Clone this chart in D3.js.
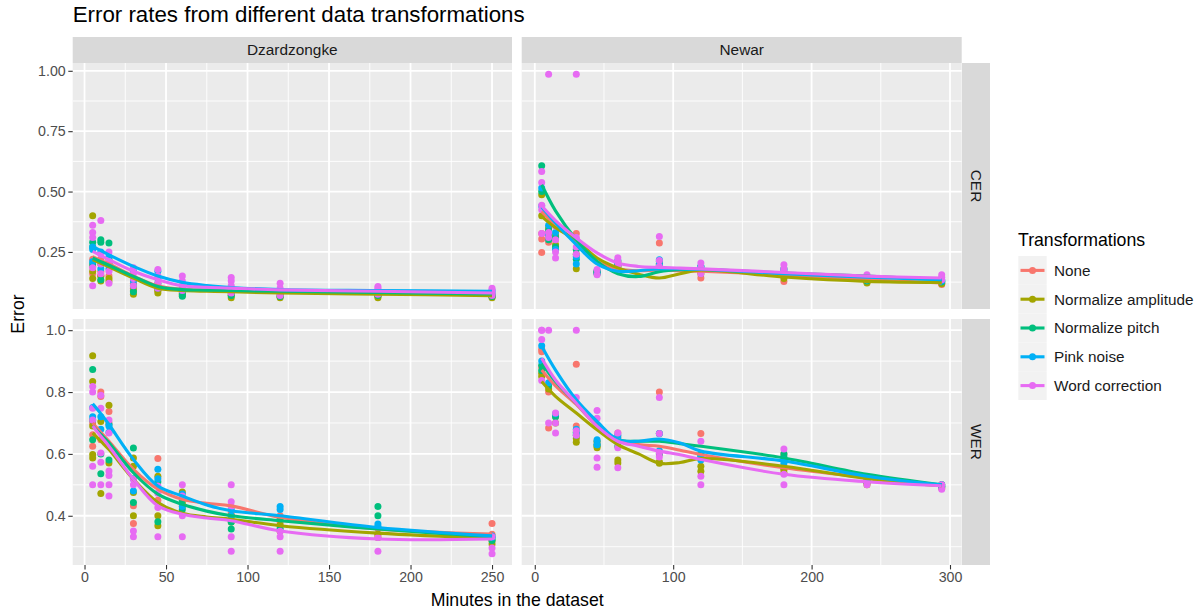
<!DOCTYPE html>
<html><head><meta charset="utf-8">
<script src="https://cdn.jsdelivr.net/npm/d3@7"></script>
<style>
body{margin:0;background:#fff}
svg{display:block}
text{font-family:"Liberation Sans",Arial,Helvetica,sans-serif}
</style>
</head><body>
<svg id="chart" width="1204" height="615"></svg>
<script>
// ---------------- DATA ----------------
const transformations = ["None", "Normalize amplitude", "Normalize pitch", "Pink noise", "Word correction"];
const colors = ["#F8766D", "#A3A500", "#00BF7D", "#00B0F6", "#E76BF3"];
const languages = ["Dzardzongke", "Newar"];
const metrics = ["CER", "WER"];

const minutesDz = [5, 10, 15, 30, 45, 60, 90, 120, 180, 250];
const minutesNe = [5, 10, 15, 30, 45, 60, 90, 120, 180, 240, 294];

// observed points: one inner array per minutes value
const dzCerNone  = [[0.22,0.16,0.19],[0.22,0.17,0.15],[0.2,0.15],[0.12,0.1],[0.11,0.09],[0.09,0.08],[0.09,0.08],[0.08,0.07],[0.08,0.07],[0.075,0.065]];
const dzCerAmp   = [[0.40,0.17,0.14],[0.2,0.15,0.13],[0.22,0.14,0.13],[0.09,0.075],[0.09,0.08],[0.08,0.07],[0.07,0.06],[0.065,0.06],[0.065,0.06],[0.065,0.06]];
const dzCerPitch = [[0.29,0.27,0.2],[0.30,0.29,0.135],[0.287,0.2],[0.11,0.085],[0.12,0.1],[0.075,0.066],[0.08,0.07],[0.08,0.065],[0.075,0.07],[0.07,0.065]];
const dzCerPink  = [[0.27,0.26,0.21],[0.25,0.18],[0.23,0.18],[0.17,0.13],[0.17,0.14],[0.1,0.09],[0.1,0.09],[0.09,0.085],[0.09,0.085],[0.09,0.08]];
const dzCerWord  = [[0.36,0.33,0.31,0.185,0.11],[0.38,0.24,0.2,0.16],[0.25,0.21,0.17,0.12],[0.185,0.16,0.14,0.11],[0.177,0.15,0.12,0.1],[0.15,0.13,0.11,0.09],[0.144,0.13,0.11,0.09,0.08],[0.12,0.1,0.09,0.07],[0.107,0.1,0.08,0.075],[0.1,0.09,0.08,0.07]];

const neCerNone  = [[0.326,0.304,0.248],[0.33,0.29],[0.3,0.27],[0.326,0.3],[0.17,0.16],[0.2,0.19],[0.287,0.2],[0.17,0.142],[0.15,0.128],[0.13,0.125],[0.12,0.115]];
const neCerAmp   = [[0.487,0.40],[0.35,0.31],[0.32,0.28],[0.24,0.18],[0.17,0.165],[0.21,0.195],[0.2,0.19],[0.18,0.16],[0.16,0.14],[0.125,0.121],[0.125,0.118]];
const neCerPitch = [[0.607,0.5],[0.34,0.3],[0.31,0.27],[0.26,0.22],[0.168,0.16],[0.2,0.19],[0.21,0.195],[0.19,0.17],[0.18,0.16],[0.14,0.13],[0.13,0.125]];
const neCerPink  = [[0.515,0.44],[0.36,0.32],[0.33,0.26],[0.23,0.2],[0.172,0.162],[0.215,0.2],[0.218,0.2],[0.19,0.175],[0.175,0.165],[0.14,0.135],[0.135,0.13]];
const neCerWord  = [[0.583,0.538,0.443,0.425,0.326],[0.986,0.33,0.31],[0.356,0.3,0.25,0.225],[0.986,0.31,0.27,0.24],[0.177,0.156],[0.226,0.21,0.19],[0.314,0.215,0.19],[0.204,0.185,0.16],[0.197,0.18,0.17],[0.156,0.145,0.135],[0.156,0.145,0.135]];

const dzWerNone  = [[0.70,0.662,0.625],[0.80,0.786,0.646],[0.737,0.70],[0.432,0.375],[0.585,0.45],[0.46,0.43],[0.41,0.39],[0.40,0.38],[0.36,0.34],[0.375,0.34]];
const dzWerAmp   = [[0.917,0.834,0.69,0.598,0.587],[0.705,0.472],[0.757,0.571],[0.587,0.56,0.475,0.40],[0.528,0.40,0.368],[0.477,0.44],[0.40,0.38],[0.37,0.35],[0.34,0.33],[0.309,0.32]];
const dzWerPitch = [[0.873,0.71,0.646],[0.60,0.536],[0.695,0.58],[0.619,0.443],[0.51,0.381],[0.45,0.42],[0.38,0.357],[0.39,0.36],[0.43,0.40],[0.33,0.32]];
const dzWerPink  = [[0.75,0.72],[0.72,0.68],[0.69,0.67],[0.52,0.48],[0.55,0.52],[0.47,0.43],[0.42,0.40],[0.43,0.42],[0.373,0.365],[0.335,0.33]];
const dzWerWord  = [[0.818,0.80,0.748,0.71,0.56,0.50],[0.79,0.748,0.603,0.573,0.50],[0.71,0.668,0.545,0.53,0.50,0.464],[0.518,0.50,0.351,0.332],[0.496,0.473,0.427,0.332],[0.50,0.464,0.40,0.332],[0.50,0.445,0.43,0.332,0.285],[0.35,0.332,0.285],[0.33,0.285],[0.332,0.296,0.277]];

const neWerNone  = [[0.938,0.93,0.88],[0.80,0.684],[0.721],[0.89,0.69],[0.64,0.63],[0.668,0.655],[0.80,0.6],[0.666,0.6],[0.6,0.55],[0.51,0.505],[0.50,0.49]];
const neWerAmp   = [[0.861,0.85],[0.81],[0.70],[0.638,0.65],[0.625,0.62],[0.571,0.58],[0.575,0.57],[0.544,0.56],[0.55,0.54],[0.51,0.5],[0.495,0.49]];
const neWerPitch = [[0.887,0.87],[0.82],[0.72],[0.67,0.66],[0.64,0.63],[0.64,0.625],[0.666,0.6],[0.6,0.59],[0.60,0.59],[0.515,0.51],[0.5,0.495]];
const neWerPink  = [[0.95,0.9],[0.83],[0.73],[0.68,0.665],[0.646,0.63],[0.66,0.65],[0.666,0.61],[0.59,0.58],[0.58,0.57],[0.52,0.51],[0.5,0.495]];
const neWerWord  = [[1.0,0.97,0.837,1.0],[1.0,0.70],[0.732,0.70,0.668],[1.0,0.782,0.675,0.66],[0.74,0.715,0.587,0.557],[0.668,0.64,0.62,0.555],[0.782,0.666,0.604,0.59],[0.641,0.528,0.50],[0.616,0.534,0.50],[0.50],[0.50,0.486]];

// smoothed trend lines (at these minutes)
const smoothXDz = [5, 10, 15, 30, 45, 60, 75, 90, 120, 180, 250];
const smoothXNe = [5, 15, 30, 45, 60, 75, 90, 105, 120, 180, 240, 294];

const dzCerSmNone  = [0.23, 0.214, 0.2, 0.15, 0.11, 0.095, 0.091, 0.088, 0.083, 0.078, 0.072];
const dzCerSmAmp   = [0.218, 0.203, 0.188, 0.142, 0.10, 0.09, 0.087, 0.085, 0.08, 0.075, 0.069];
const dzCerSmPitch = [0.225, 0.21, 0.195, 0.149, 0.107, 0.094, 0.092, 0.09, 0.087, 0.082, 0.076];
const dzCerSmPink  = [0.273, 0.255, 0.238, 0.19, 0.15, 0.124, 0.111, 0.103, 0.094, 0.09, 0.087];
const dzCerSmWord  = [0.252, 0.235, 0.218, 0.17, 0.135, 0.11, 0.104, 0.10, 0.093, 0.087, 0.08];

const neCerSmNone  = [0.418, 0.36, 0.29, 0.21, 0.18, 0.172, 0.175, 0.172, 0.17, 0.155, 0.135, 0.122];
const neCerSmAmp   = [0.397, 0.35, 0.30, 0.225, 0.184, 0.158, 0.142, 0.16, 0.175, 0.146, 0.128, 0.124];
const neCerSmPitch = [0.528, 0.42, 0.30, 0.211, 0.16, 0.148, 0.168, 0.176, 0.177, 0.163, 0.15, 0.135];
const neCerSmPink  = [0.436, 0.37, 0.28, 0.20, 0.17, 0.172, 0.18, 0.18, 0.178, 0.16, 0.145, 0.135];
const neCerSmWord  = [0.441, 0.38, 0.308, 0.246, 0.204, 0.19, 0.186, 0.183, 0.18, 0.165, 0.15, 0.142];

const dzWerSmNone  = [0.70, 0.67, 0.641, 0.55, 0.486, 0.453, 0.44, 0.432, 0.395, 0.357, 0.341];
const dzWerSmAmp   = [0.668, 0.641, 0.614, 0.518, 0.443, 0.408, 0.396, 0.389, 0.368, 0.344, 0.327];
const dzWerSmPitch = [0.69, 0.663, 0.636, 0.539, 0.47, 0.437, 0.415, 0.40, 0.384, 0.357, 0.332];
const dzWerSmPink  = [0.762, 0.73, 0.695, 0.582, 0.496, 0.464, 0.435, 0.416, 0.40, 0.362, 0.335];
const dzWerSmWord  = [0.69, 0.657, 0.625, 0.518, 0.432, 0.405, 0.393, 0.384, 0.351, 0.325, 0.325];

const neWerSmNone  = [0.871, 0.82, 0.76, 0.69, 0.646, 0.63, 0.625, 0.612, 0.598, 0.555, 0.523, 0.497];
const neWerSmAmp   = [0.834, 0.786, 0.732, 0.678, 0.63, 0.60, 0.57, 0.572, 0.585, 0.56, 0.52, 0.497];
const neWerSmPitch = [0.893, 0.834, 0.764, 0.695, 0.646, 0.641, 0.641, 0.633, 0.625, 0.587, 0.534, 0.50];
const neWerSmPink  = [0.948, 0.871, 0.775, 0.705, 0.646, 0.641, 0.648, 0.635, 0.609, 0.577, 0.528, 0.50];
const neWerSmWord  = [0.909, 0.839, 0.764, 0.69, 0.641, 0.625, 0.609, 0.597, 0.582, 0.534, 0.51, 0.497];

const xTicksDz = [0, 50, 100, 150, 200, 250];
const xTicksNe = [0, 100, 200, 300];
const yTicksCer = [0.25, 0.50, 0.75, 1.00];
const yTicksWer = [0.4, 0.6, 0.8, 1.0];

// ---------------- ASSEMBLY ----------------
const panelData = {
  "Dzardzongke|CER": {x: minutesDz, sx: smoothXDz, pts: [dzCerNone, dzCerAmp, dzCerPitch, dzCerPink, dzCerWord], sm: [dzCerSmNone, dzCerSmAmp, dzCerSmPitch, dzCerSmPink, dzCerSmWord]},
  "Newar|CER":       {x: minutesNe, sx: smoothXNe, pts: [neCerNone, neCerAmp, neCerPitch, neCerPink, neCerWord], sm: [neCerSmNone, neCerSmAmp, neCerSmPitch, neCerSmPink, neCerSmWord]},
  "Dzardzongke|WER": {x: minutesDz, sx: smoothXDz, pts: [dzWerNone, dzWerAmp, dzWerPitch, dzWerPink, dzWerWord], sm: [dzWerSmNone, dzWerSmAmp, dzWerSmPitch, dzWerSmPink, dzWerSmWord]},
  "Newar|WER":       {x: minutesNe, sx: smoothXNe, pts: [neWerNone, neWerAmp, neWerPitch, neWerPink, neWerWord], sm: [neWerSmNone, neWerSmAmp, neWerSmPitch, neWerSmPink, neWerSmWord]}
};
const xTicks = {"Dzardzongke": xTicksDz, "Newar": xTicksNe};
const yTicks = {"CER": yTicksCer, "WER": yTicksWer};
const yFmt = {"CER": d3.format(".2f"), "WER": d3.format(".1f")};

// ---------------- LAYOUT ----------------
const svg = d3.select("#chart");
const colX = [[72.7, 512], [521.7, 961.7]];
const rowY = [[63, 309], [319, 565]];
const FONT_TICK = 14.2;
const FONT_STRIP = 15.4;
const FONT_LEGEND = 15.3;

function expand(ext) { const r = ext[1] - ext[0]; return [ext[0] - 0.05 * r, ext[1] + 0.05 * r]; }

const xScale = {};
languages.forEach((l, c) => {
  xScale[l] = d3.scaleLinear().domain(expand(d3.extent(panelData[l + "|CER"].x))).range(colX[c]);
});
const yScale = {};
metrics.forEach((m, r) => {
  const vals = [];
  languages.forEach(l => panelData[l + "|" + m].pts.forEach(s => s.forEach(a => a.forEach(v => vals.push(v)))));
  yScale[m] = d3.scaleLinear().domain(expand(d3.extent(vals))).range([rowY[r][1], rowY[r][0]]);
});

function midpoints(ticks, domain) {
  const step = ticks[1] - ticks[0];
  const out = [];
  for (let v = ticks[0] - step / 2; v <= ticks[ticks.length - 1] + step / 2 + 1e-9; v += step) {
    if (v > domain[0] && v < domain[1]) out.push(v);
  }
  return out;
}

// title
svg.append("text").attr("x", 72.7).attr("y", 21.5).attr("font-size", 22.3).attr("fill", "#000")
  .text("Error rates from different data transformations");

metrics.forEach((m, r) => {
  languages.forEach((l, c) => {
    const xs = xScale[l], ys = yScale[m];
    const pd = panelData[l + "|" + m];
    const g = svg.append("g");
    g.append("rect").attr("x", colX[c][0]).attr("y", rowY[r][0])
      .attr("width", colX[c][1] - colX[c][0]).attr("height", rowY[r][1] - rowY[r][0]).attr("fill", "#EBEBEB");
    // minor grid
    midpoints(yTicks[m], ys.domain()).forEach(v => g.append("line").attr("x1", colX[c][0]).attr("x2", colX[c][1])
      .attr("y1", ys(v)).attr("y2", ys(v)).attr("stroke", "#fff").attr("stroke-width", 0.9));
    midpoints(xTicks[l], xs.domain()).forEach(v => g.append("line").attr("y1", rowY[r][0]).attr("y2", rowY[r][1])
      .attr("x1", xs(v)).attr("x2", xs(v)).attr("stroke", "#fff").attr("stroke-width", 0.9));
    // major grid
    yTicks[m].forEach(v => g.append("line").attr("x1", colX[c][0]).attr("x2", colX[c][1])
      .attr("y1", ys(v)).attr("y2", ys(v)).attr("stroke", "#fff").attr("stroke-width", 1.8));
    xTicks[l].forEach(v => g.append("line").attr("y1", rowY[r][0]).attr("y2", rowY[r][1])
      .attr("x1", xs(v)).attr("x2", xs(v)).attr("stroke", "#fff").attr("stroke-width", 1.8));
    // points
    pd.pts.forEach((series, ti) => {
      const flat = [];
      series.forEach((arr, xi) => arr.forEach(v => flat.push([pd.x[xi], v])));
      g.selectAll(null).data(flat).enter().append("circle")
        .attr("cx", d => xs(d[0])).attr("cy", d => ys(d[1])).attr("r", 3.5).attr("fill", colors[ti]);
    });
    // smooth lines
    const line = d3.line().x(d => xs(d[0])).y(d => ys(d[1])).curve(d3.curveCatmullRom.alpha(0.5));
    pd.sm.forEach((vals, ti) => {
      g.append("path").attr("d", line(vals.map((v, i) => [pd.sx[i], v])))
        .attr("fill", "none").attr("stroke", colors[ti]).attr("stroke-width", 3.1)
        .attr("stroke-linejoin", "round").attr("stroke-linecap", "butt");
    });
    // axes
    if (c === 0) {
      const ax = svg.append("g").attr("transform", `translate(${colX[0][0]},0)`)
        .call(d3.axisLeft(ys).tickValues(yTicks[m]).tickFormat(yFmt[m]).tickSize(4.4).tickPadding(2.6));
      ax.select(".domain").remove();
      ax.selectAll("line").attr("stroke", "#333").attr("stroke-width", 1.1);
      ax.selectAll("text").attr("fill", "#4D4D4D").attr("font-size", FONT_TICK)
        .attr("font-family", '"Liberation Sans",Arial,sans-serif');
    }
    if (r === 1) {
      const ax = svg.append("g").attr("transform", `translate(0,${rowY[1][1]})`)
        .call(d3.axisBottom(xs).tickValues(xTicks[l]).tickFormat(d3.format("d")).tickSize(4.4).tickPadding(2.6));
      ax.select(".domain").remove();
      ax.selectAll("line").attr("stroke", "#333").attr("stroke-width", 1.1);
      ax.selectAll("text").attr("fill", "#4D4D4D").attr("font-size", FONT_TICK)
        .attr("font-family", '"Liberation Sans",Arial,sans-serif');
    }
  });
});

// strips (top)
languages.forEach((l, c) => {
  svg.append("rect").attr("x", colX[c][0]).attr("y", 37).attr("width", colX[c][1] - colX[c][0]).attr("height", 26).attr("fill", "#D9D9D9");
  svg.append("text").attr("x", (colX[c][0] + colX[c][1]) / 2).attr("y", 50).attr("dy", "0.35em")
    .attr("text-anchor", "middle").attr("font-size", FONT_STRIP).attr("fill", "#1A1A1A").text(l);
});
// strips (right)
metrics.forEach((m, r) => {
  svg.append("rect").attr("x", 962).attr("y", rowY[r][0]).attr("width", 28).attr("height", rowY[r][1] - rowY[r][0]).attr("fill", "#D9D9D9");
  const cx = 976, cy = (rowY[r][0] + rowY[r][1]) / 2;
  svg.append("text").attr("transform", `translate(${cx},${cy}) rotate(90)`).attr("dy", "0.35em")
    .attr("text-anchor", "middle").attr("font-size", FONT_STRIP).attr("fill", "#1A1A1A").text(m);
});

// axis titles
svg.append("text").attr("x", (colX[0][0] + colX[1][1]) / 2).attr("y", 606).attr("text-anchor", "middle")
  .attr("font-size", 17.7).attr("fill", "#000").text("Minutes in the dataset");
svg.append("text").attr("transform", `translate(24,${(rowY[0][0] + rowY[1][1]) / 2}) rotate(-90)`).attr("text-anchor", "middle")
  .attr("font-size", 17.7).attr("fill", "#000").text("Error");

// legend
const lg = svg.append("g");
lg.append("text").attr("x", 1018).attr("y", 246).attr("font-size", 17.7).attr("fill", "#000").text("Transformations");
transformations.forEach((t, i) => {
  const y0 = 256 + i * 28.8;
  lg.append("rect").attr("x", 1018.3).attr("y", y0).attr("width", 28.4).attr("height", 28.8).attr("fill", "#F2F2F2");
  lg.append("line").attr("x1", 1020.5).attr("x2", 1044.5).attr("y1", y0 + 14.4).attr("y2", y0 + 14.4)
    .attr("stroke", colors[i]).attr("stroke-width", 3.1);
  lg.append("circle").attr("cx", 1032.5).attr("cy", y0 + 14.4).attr("r", 3.5).attr("fill", colors[i]);
  lg.append("text").attr("x", 1054).attr("y", y0 + 14.4).attr("dy", "0.35em").attr("font-size", FONT_LEGEND)
    .attr("fill", "#1A1A1A").text(t);
});
</script>
</body></html>
